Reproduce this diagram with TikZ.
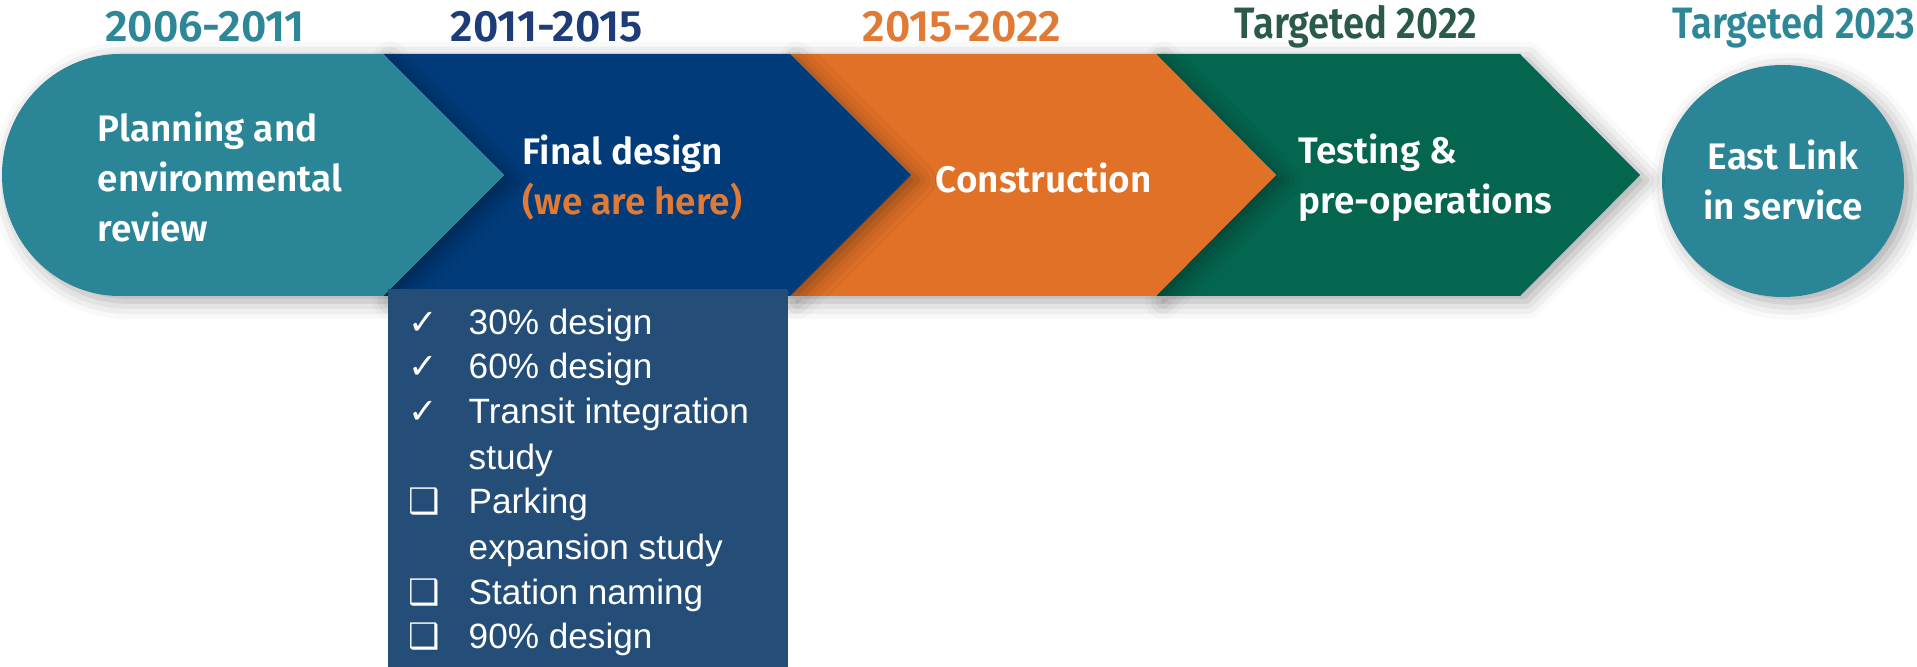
\documentclass[tikz,border=0pt]{standalone}
\usepackage{fontspec}
\setmainfont{Liberation Sans}
\newfontfamily\headfont{Fira Sans SemiBold}
\newfontfamily\narrowfont{Fira Sans SemiBold}[FakeStretch=0.87]
\newfontfamily\symfont{DejaVu Sans}
\usetikzlibrary{shadows.blur}
\definecolor{tealph}{HTML}{2A8596}
\definecolor{navyph}{HTML}{023B7A}
\definecolor{orangeph}{HTML}{E07127}
\definecolor{greenph}{HTML}{05664F}
\definecolor{listbg}{HTML}{244E77}
\definecolor{yrteal}{HTML}{2E8796}
\definecolor{yrnavy}{HTML}{1E3D78}
\definecolor{yrorange}{HTML}{E07A35}
\definecolor{yrgreen}{HTML}{2B5A4B}
\begin{document}
\begin{tikzpicture}[x=0.01cm,y=-0.01cm,line join=round]
			\tikzset{phase/.style={blur shadow={shadow xshift=2pt,shadow yshift=-1.5pt,shadow blur radius=5pt,shadow opacity=35}},
				year/.style={font=\headfont\fontsize{12.5}{14}\selectfont},
				target/.style={font=\narrowfont\fontsize{12.5}{14}\selectfont},
				head/.style={font=\headfont\fontsize{10.5}{14.2}\selectfont,text=white,align=left,inner sep=0pt},
				item/.style={font=\fontsize{10}{12}\selectfont,text=white,anchor=base west,inner sep=0pt}}
			\useasboundingbox (0,0) rectangle (1917,667);
			% phases, right to left so each tip throws its shadow on the next one
			\fill[tealph,phase] (1783,181) ellipse[x radius=121,y radius=116];
			\fill[greenph,phase] (1156,54)--(1520,54)--(1640,175)--(1520,296)--(1156,296)--(1276,175)--cycle;
			\fill[orangeph,phase] (790,54)--(1156,54)--(1276,175)--(1156,296)--(790,296)--(911,175)--cycle;
			\fill[navyph,phase] (383,54)--(790,54)--(911,175)--(790,296)--(383,296)--(504,175)--cycle;
			\fill[tealph,phase] (383,54)--(504,175)--(383,296)--(120,296) arc[start angle=90,end angle=270,x radius=118,y radius=121]--cycle;
			% years
			\node[year,text=yrteal] (y1) at (205,27) {2006-2011};
			\node[year,text=yrnavy] (y2) at (547,27) {2011-2015};
			\node[year,text=yrorange] (y3) at (962,27) {2015-2022};
			\node[target,text=yrgreen] (y4) at (1356,27) {Targeted 2022};
			\node[target,text=yrteal] (y5) at (1794,27) {Targeted 2023};
			% phase names
			\node[head,anchor=west] (p1) at (97,177) {Planning and\\environmental\\review};
			\node[head,anchor=west] (p2) at (522,178) {Final design\\\textcolor{yrorange}{(we are here)}};
			\node[head,anchor=west] (p3) at (935,178) {Construction};
			\node[head,anchor=west] (p4) at (1298,178) {Testing \&\\pre-operations};
			\node[head,align=center] (p5) at (1783,180) {East Link\\in service};
			% final design tasks
			\fill[listbg] (388,289) rectangle (788,667);
			\foreach \s/\t [count=\i] in {✓/30\% design,✓/60\% design,✓/Transit integration,{}/study,❑/Parking,{}/expansion study,❑/Station naming,❑/90\% design}{
				\node[item] (mk\i) at (408,289+45*\i) {\symfont\s};
				\node[item] (task\i) at (468,289+45*\i) {\t};
			}
		\end{tikzpicture}
\end{document}
